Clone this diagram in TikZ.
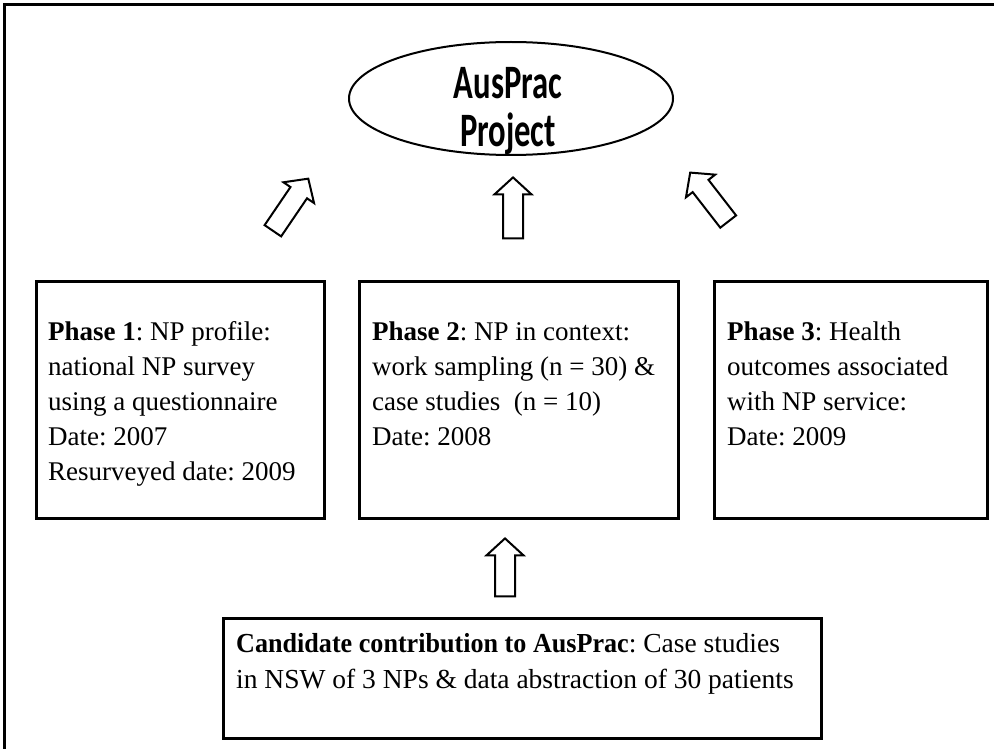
\documentclass[tikz,border=0pt]{standalone}
\usepackage{graphicx}
\usepackage{fontspec}
\setmainfont{Liberation Serif}
\newfontfamily\ausfont[FakeStretch=0.68]{Carlito}
\usetikzlibrary{shapes.geometric,shapes.arrows}
\frenchspacing
\tikzset{
  frame/.style={line width=3.5pt, line cap=rect},
  phasebox/.style={draw, line width=2.8pt, inner sep=0pt, anchor=north west},
  projoval/.style={draw, ellipse, line width=2pt, inner sep=0pt, minimum width=324pt, minimum height=113pt},
  blockarr/.style={draw, fill=white, single arrow, line width=2pt, inner xsep=0pt, inner ysep=9pt,
    single arrow head extend=8.5pt, single arrow tip angle=95},
  boxtext/.style={anchor=north west, inner sep=0pt, align=left, font=\frenchspacing\fontsize{27}{35}\selectfont},
  candtext/.style={anchor=north west, inner sep=0pt, align=left, font=\frenchspacing\fontsize{27.5}{36}\selectfont},
  projtext/.style={anchor=north, inner sep=0pt, align=center, font=\ausfont\bfseries\fontsize{48}{44}\selectfont}
}
\begin{document}
\begin{tikzpicture}[x=1pt,y=-1pt]
\useasboundingbox (0,0) rectangle (994,749);
\clip (0,0) rectangle (994,749);
\fill[white] (0,0) rectangle (994,749);
% outer frame (right and bottom sides fall outside the picture)
\draw[frame] (4.5,770) -- (4.5,4.5) -- (1010,4.5);

% project ellipse
\node[projoval] (proj) at (511,98.5) {};
\node[projtext] (projt) at (508,67.2) {\strut AusPrac\\Project};

% phase boxes
\node[phasebox, minimum width=288pt, minimum height=237pt] (p1) at (35,280) {};
\node[phasebox, minimum width=319pt, minimum height=237pt] (p2) at (358,280) {};
\node[phasebox, minimum width=273pt, minimum height=237pt] (p3) at (713,280) {};
\node[phasebox, minimum width=598pt, minimum height=120pt] (cand) at (222,617) {};

\node[boxtext] (p1t) at (48,315.5) {\strut\textbf{Phase 1}: NP profile:\\national NP survey\\using a questionnaire\\Date: 2007\\Resurveyed date: 2009};
\node[boxtext] (p2t) at (372,315.5) {\strut\textbf{Phase 2}: NP in context:\\work sampling (n = 30) \&\\case studies\ \ (n = 10)\\Date: 2008};
\node[boxtext] (p3t) at (727,315.5) {\strut\textbf{Phase 3}: Health\\outcomes associated\\with NP service:\\Date: 2009};
\node[candtext] (candt) at (236,627) {\strut\scalebox{0.95}[1]{\textbf{Candidate contribution to AusPrac}}: Case studies\\in NSW of 3 NPs \& data abstraction of 30 patients};

% block arrows
\node[blockarr, minimum height=63pt, rotate=55.8] (a1) at (288,208.5) {};
\node[blockarr, minimum height=61pt, rotate=90] (a2) at (513,212.5) {};
\node[blockarr, minimum height=62pt, rotate=127.8] (a3) at (712,200.7) {};
\node[blockarr, minimum height=58pt, rotate=90] (a4) at (505,572) {};
\end{tikzpicture}
\end{document}
